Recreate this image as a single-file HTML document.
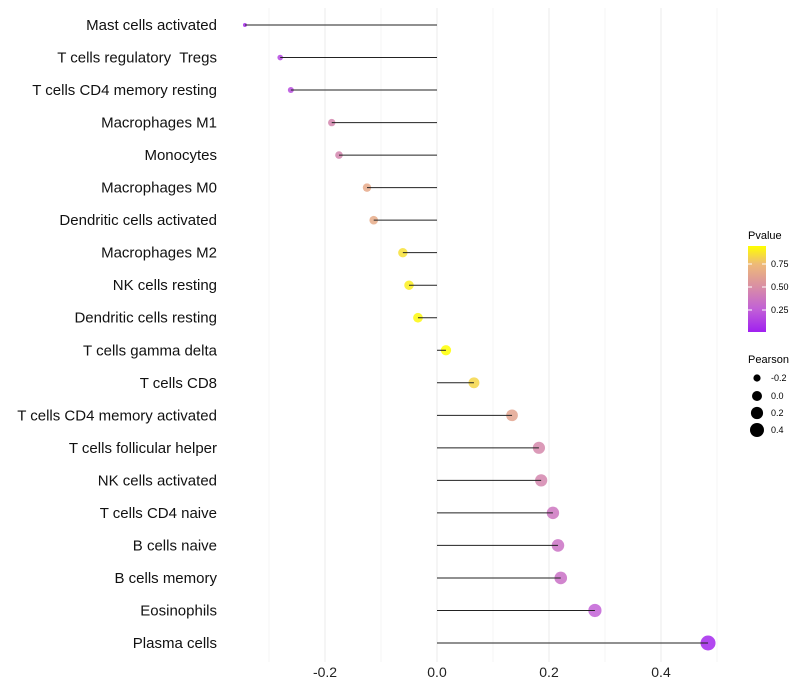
<!DOCTYPE html>
<html><head><meta charset="utf-8"><style>
body{margin:0;background:#fff;}
svg{display:block;font-family:"Liberation Sans",sans-serif;}
</style></head><body>
<svg id="chart" width="800" height="700">
<defs><linearGradient id="pg" x1="0" y1="1" x2="0" y2="0">
<stop offset="0" stop-color="#a020f0"/><stop offset="0.27" stop-color="#c261d6"/><stop offset="0.53" stop-color="#d98fa4"/><stop offset="0.79" stop-color="#eeba78"/><stop offset="1" stop-color="#ffff00"/>
</linearGradient></defs>
<g id="grid"></g><g id="segs"></g><g id="pts"></g><g id="ylab"></g><g id="xlab"></g>
<g>
<text x="748" y="239" font-size="11" fill="#000">Pvalue</text>
<rect x="748" y="246" width="18" height="86" fill="url(#pg)"/>
<g stroke="#fff" stroke-width="1"><line x1="748" y1="264" x2="752" y2="264"/><line x1="762" y1="264" x2="766" y2="264"/><line x1="748" y1="287" x2="752" y2="287"/><line x1="762" y1="287" x2="766" y2="287"/><line x1="748" y1="310" x2="752" y2="310"/><line x1="762" y1="310" x2="766" y2="310"/></g>
<g font-size="9" fill="#000"><text x="771" y="267">0.75</text><text x="771" y="290">0.50</text><text x="771" y="313">0.25</text></g>
</g>
<g>
<text x="748" y="363" font-size="11" fill="#000">Pearson</text>
<circle cx="757" cy="378" r="3.6" fill="#000"/><circle cx="757" cy="396" r="5" fill="#000"/><circle cx="757" cy="413" r="6.1" fill="#000"/><circle cx="757" cy="430" r="7" fill="#000"/>
<g font-size="9" fill="#000"><text x="771" y="381">-0.2</text><text x="771" y="399">0.0</text><text x="771" y="416">0.2</text><text x="771" y="433">0.4</text></g>
</g>
</svg>
<script>
const cells=["Mast cells activated","T cells regulatory  Tregs","T cells CD4 memory resting","Macrophages M1","Monocytes","Macrophages M0","Dendritic cells activated","Macrophages M2","NK cells resting","Dendritic cells resting","T cells gamma delta","T cells CD8","T cells CD4 memory activated","T cells follicular helper","NK cells activated","T cells CD4 naive","B cells naive","B cells memory","Eosinophils","Plasma cells"];
const pearson=[-0.343,-0.280,-0.261,-0.188,-0.175,-0.125,-0.113,-0.061,-0.050,-0.034,0.016,0.066,0.134,0.182,0.186,0.207,0.216,0.221,0.282,0.484];
const pvalue=[0.05,0.15,0.17,0.45,0.45,0.65,0.66,0.86,0.90,0.93,0.95,0.83,0.62,0.46,0.45,0.36,0.34,0.33,0.25,0.03];
const xticks=[-0.2,0,0.2,0.4];
const xtickLabels=["-0.2","0.0","0.2","0.4"];
const gridVals=[-0.3,-0.2,-0.1,0,0.1,0.2,0.3,0.4,0.5];
const NS="http://www.w3.org/2000/svg";
const xs=v=>437+v*560;
const ys=i=>25+i*(618/19);
function lerp(a,b,t){return a.map((x,k)=>Math.round(x+(b[k]-x)*t));}
const stops=[[0,[160,32,240]],[0.25,[194,97,214]],[0.5,[217,143,164]],[0.75,[238,186,120]],[0.95,[255,255,0]]];
function col(p){p=Math.max(0,Math.min(0.95,p));for(let i=0;i<stops.length-1;i++){if(p<=stops[i+1][0]){const t=(p-stops[i][0])/(stops[i+1][0]-stops[i][0]);const c=lerp(stops[i][1],stops[i+1][1],t);return `rgb(${c})`;}}return "rgb(255,255,0)";}
const rs=v=>Math.sqrt(Math.max(1,25.6+v*63.4));
function mk(tag,at,parent){const e=document.createElementNS(NS,tag);for(const k in at)e.setAttribute(k,at[k]);document.getElementById(parent).appendChild(e);return e;}
gridVals.forEach((v,i)=>{const major=Math.abs(Math.round(v*10))%2===0;const l=mk("line",{x1:xs(v),x2:xs(v),y1:8,y2:662,stroke:major?"#ebebeb":"#f4f4f4","stroke-width":1},"grid");

});
xticks.forEach((v,i)=>{const t=mk("text",{x:xs(v),y:677,"text-anchor":"middle","font-size":14,fill:"#222"},"xlab");t.textContent=xtickLabels[i];

});
cells.forEach((c,i)=>{const y=ys(i);
const t=mk("text",{x:217,y:y+5,"text-anchor":"end","font-size":15,fill:"#111","xml:space":"preserve",style:"white-space:pre"},"ylab");t.textContent=c;


const p=mk("circle",{cx:xs(pearson[i]),cy:y,r:rs(pearson[i]),fill:col(pvalue[i]),"fill-opacity":0.85},"pts");


const s=mk("line",{x1:xs(0),x2:xs(pearson[i]),y1:y,y2:y,stroke:"#222","stroke-width":1},"segs");

});
document.getElementById("chart").appendChild(document.getElementById("segs"));
</script>
</body></html>
